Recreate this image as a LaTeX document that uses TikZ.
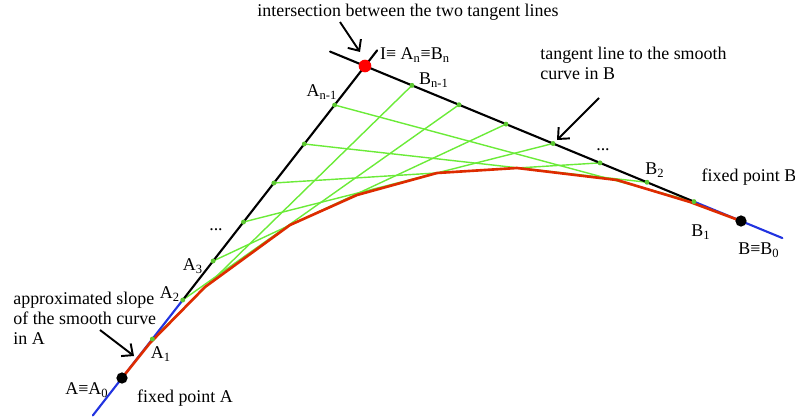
\documentclass[tikz,border=0pt]{standalone}
\usepackage{fontspec}
\setmainfont{Liberation Serif}
\usetikzlibrary{arrows.meta,calc}
\usepackage{tkz-euclide}
\definecolor{TangClr}{rgb}{0.13,0.2,0.88}
\definecolor{CurveClr}{rgb}{0.87,0.17,0}
\definecolor{StringClr}{rgb}{0.42,0.92,0.22}

\begin{document}
\begin{tikzpicture}[x=0.02cm,y=-0.02cm,font=\fontsize{10.2}{11.4}\selectfont,
  note/.style={align=left,inner sep=0pt},
  pointer/.style={-{Straight Barb[length=5pt,width=9pt]},line width=1.1pt}]
\useasboundingbox (0,0) rectangle (795,419);
\tkzSetUpLine[line width=1.2pt,color=black]

\tkzDefPoints{122/378/A0,365/66/I,741/221/B0}
\foreach \k in {1,...,7}{
  \coordinate (A\k) at ($(A0)!\k/8!(I)$);
  \coordinate (B\k) at ($(B0)!\k/8!(I)$);
}
\coordinate (Aout) at ($(A0)!-0.12!(I)$);
\coordinate (Ain) at ($(I)!-0.05!(A0)$);
\coordinate (Bout) at ($(B0)!-0.11!(I)$);
\coordinate (Bin) at ($(I)!-0.093!(B0)$);

\foreach \k [evaluate=\k as \j using int(8-\k)] in {1,...,7}
  \draw[StringClr,line width=0.8pt] (A\k) -- (B\j);

\tkzDrawSegments[color=TangClr](Aout,A2 Bout,B1)
\tkzDrawSegments(A2,Ain B1,Bin)

\draw[CurveClr,line width=1.5pt,line join=round] (A0) -- (150,343) -- (205,287)
  -- (290,225) -- (357,195) -- (437,173) -- (517,168) -- (617,180)
  -- (690,202) -- (B0);

\foreach \k in {1,...,7}{
  \fill[StringClr!85!black] (A\k) circle (1.4pt);
  \fill[StringClr!85!black] (B\k) circle (1.4pt);
}
\fill (A0) circle (3.2pt);
\fill (B0) circle (3.2pt);
\fill[red] (I) circle (3.6pt);

\node (lI) at (415,55) {I≡ A\textsubscript{n}≡B\textsubscript{n}};
\node (lAn1) at (322,92) {A\textsubscript{n-1}};
\node (lBn1) at (434,80) {B\textsubscript{n-1}};
\node (lB2) at (655,170) {B\textsubscript{2}};
\node (lB1) at (701,232) {B\textsubscript{1}};
\node (lB0) at (759,250) {B≡B\textsubscript{0}};
\node (lA3) at (193,266) {A\textsubscript{3}};
\node (lA2) at (170,294) {A\textsubscript{2}};
\node (lA1) at (161,354) {A\textsubscript{1}};
\node (lA0) at (87,390) {A≡A\textsubscript{0}};
\node (dotsA) at (216,230) {...};
\node (dotsB) at (603,150) {...};
\node (fixA) at (185,398) {fixed point A};
\node (fixB) at (749,177) {fixed point B};
\node[note,anchor=west] (slopeA) at (13,318) {approximated slope\\of the smooth curve\\in A};
\node[note,anchor=west] (tangB) at (540,63) {tangent line to the smooth\\curve in B};
\node (meet) at (408,12) {intersection between the two tangent lines};

\coordinate (meetP) at (340,22);
\coordinate (meetQ) at (360,52);
\coordinate (tangP) at (599,98);
\coordinate (tangQ) at (557,140);
\coordinate (slopeP) at (100,330);
\coordinate (slopeQ) at (134,356);
\draw[pointer] (meetP) -- (meetQ);
\draw[pointer] (tangP) -- (tangQ);
\draw[pointer] (slopeP) -- (slopeQ);

\end{tikzpicture}
\end{document}
